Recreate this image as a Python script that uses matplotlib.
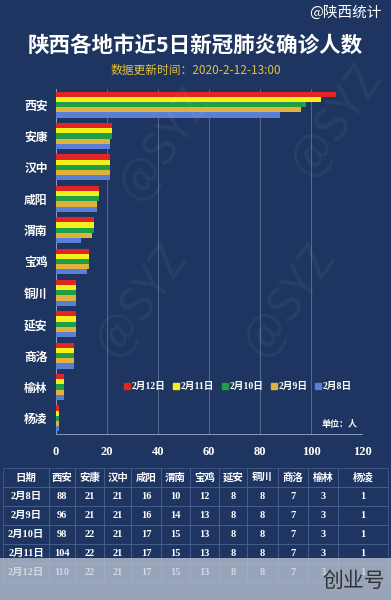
import matplotlib.pyplot as plt
import numpy as np
from matplotlib.lines import Line2D
from matplotlib.patches import Rectangle

plt.rcParams['font.family'] = ['Noto Sans CJK SC', 'DejaVu Sans']

# chart data
cities = ['西安', '安康', '汉中', '咸阳', '渭南', '宝鸡', '铜川', '延安', '商洛', '榆林', '杨凌']
dates = ['2月12日', '2月11日', '2月10日', '2月9日', '2月8日']
vals = {
    '2月12日': [110, 22, 21, 17, 15, 13, 8, 8, 7, 3, 1],
    '2月11日': [104, 22, 21, 17, 15, 13, 8, 8, 7, 3, 1],
    '2月10日': [98, 22, 21, 17, 15, 13, 8, 8, 7, 3, 1],
    '2月9日': [96, 21, 21, 16, 14, 13, 8, 8, 7, 3, 1],
    '2月8日': [88, 21, 21, 16, 10, 12, 8, 8, 7, 3, 1],
}
colors = ['#e32424', '#f2f21a', '#1f9e45', '#e0b13c', '#5a7fd6']

# table data (table order has 延安 before 铜川)
tbl_cols = ['日期', '西安', '安康', '汉中', '咸阳', '渭南', '宝鸡', '延安', '铜川', '商洛', '榆林', '杨凌']
tbl_dates = ['2月8日', '2月9日', '2月10日', '2月11日', '2月12日']

bg = '#1d3560'
fig = plt.figure(figsize=(3.91, 6), dpi=100, facecolor=bg)

# titles
fig.text(0.975, 0.978, '@陕西统计', color='white', fontsize=10.5, ha='right', va='center')
fig.text(0.5, 0.925, '陕西各地市近5日新冠肺炎确诊人数', color='white', fontsize=15.5,
         fontweight='bold', ha='center', va='center')
fig.text(0.5, 0.883, '数据更新时间：2020-2-12-13:00', color='#e2c042', fontsize=8.5,
         ha='center', va='center')

# faint watermarks
for wx, wy in [(0.42, 0.76), (0.86, 0.8), (0.36, 0.5), (0.74, 0.5)]:
    fig.text(wx, wy, '@SYZ', color='white', alpha=0.05, fontsize=34, rotation=55,
             ha='center', va='center')

# bar chart
ax = fig.add_axes([0.1432, 0.2767, 0.7826, 0.575], facecolor='none')
y = np.arange(len(cities))
h = 0.165
for j, d in enumerate(dates):
    ax.barh(y + (j - 2) * h, vals[d], height=h, color=colors[j], zorder=3)
ax.set_ylim(len(cities) - 0.5, -0.5)
ax.set_xlim(0, 120)
ax.set_xticks(range(0, 121, 20))
ax.set_yticks(y)
ax.set_yticklabels(cities, color='white', fontsize=8.5, fontweight='bold')
for t in ax.get_xticklabels():
    t.set_family(['Liberation Serif', 'DejaVu Serif'])
    t.set_fontweight('bold')
    t.set_fontsize(9)
    t.set_color('white')
ax.tick_params(length=0, pad=6)
ax.tick_params(axis='x', pad=9)
ax.grid(axis='x', color='#8a9bbb', linewidth=0.6, alpha=0.6, zorder=0)
for s in ['top', 'right']:
    ax.spines[s].set_visible(False)
for s in ['left', 'bottom']:
    ax.spines[s].set_color('#8a9bbb')
    ax.spines[s].set_linewidth(0.7)

handles = [Line2D([], [], marker='s', linestyle='', color=c, markersize=4.5) for c in colors]
leg = ax.legend(handles, dates, ncol=5, loc='center', bbox_to_anchor=(0.595, 0.137),
                frameon=False, handlelength=0.6, handletextpad=0.15, columnspacing=0.8,
                prop={'family': ['Liberation Serif', 'Noto Sans CJK SC'], 'weight': 'bold', 'size': 7})
for t in leg.get_texts():
    t.set_color('white')
ax.text(0.985, 0.028, '单位：人', transform=ax.transAxes, color='white', fontsize=6.5,
        fontweight='bold', ha='right', va='center')

# data table
tax = fig.add_axes([0.008, 0.03, 0.984, 0.19])
tax.axis('off')
cell_text = [[d] + [str(vals[d][cities.index(c)]) for c in tbl_cols[1:]] for d in tbl_dates]
bounds = np.array([3, 49, 75, 104, 131, 161, 190, 219, 247, 278, 308, 338, 388])
widths = np.diff(bounds) / (bounds[-1] - bounds[0])
table = tax.table(cellText=cell_text, colLabels=tbl_cols, colWidths=widths,
                  loc='center', bbox=[0, 0, 1, 1], cellLoc='center')
table.auto_set_font_size(False)
for (r, c), cell in table.get_celld().items():
    cell.set_facecolor('none')
    cell.set_edgecolor('#4a6090')
    cell.set_linewidth(0.5)
    txt = cell.get_text()
    txt.set_color('white')
    txt.set_fontweight('bold')
    txt.set_fontsize(7.5)
    if r == 0 or c == 0:
        txt.set_family(['Liberation Serif', 'Noto Sans CJK SC'])
    else:
        txt.set_family(['Liberation Serif', 'DejaVu Serif'])

# light overlay band at bottom
fig.patches.append(Rectangle((0, 0), 1, 0.07, transform=fig.transFigure,
                             facecolor='#c2cad8', alpha=0.75, zorder=5))
fig.text(0.985, 0.032, '创业号', color='#333333', fontsize=15, ha='right', va='center',
         zorder=6)

fig.savefig('out.png', dpi=100, facecolor=bg)
